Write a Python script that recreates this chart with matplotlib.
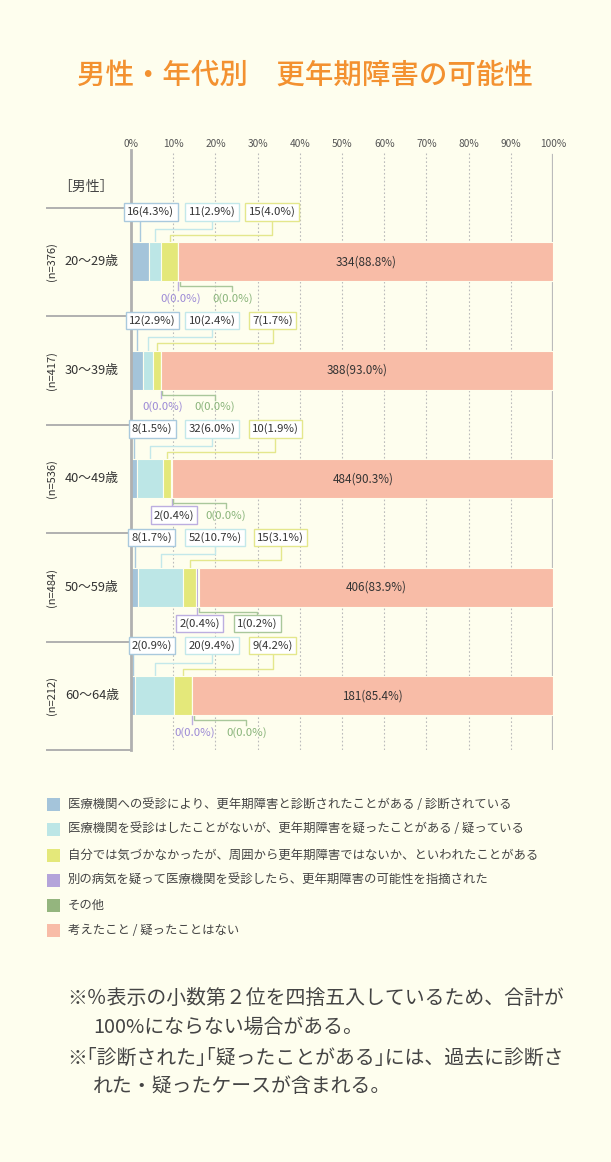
import matplotlib
matplotlib.use('Agg')
import matplotlib.pyplot as plt
from matplotlib.patches import Rectangle
import matplotlib.transforms as mtransforms

plt.rcParams['font.family'] = ['Noto Sans CJK JP', 'DejaVu Sans']

W, H = 611, 1162
BG = '#fefeee'

# データ
ages = ['20～29歳', '30～39歳', '40～49歳', '50～59歳', '60～64歳']
n_total = [376, 417, 536, 484, 212]
cnt_diag = [16, 12, 8, 8, 2]
pct_diag = [4.3, 2.9, 1.5, 1.7, 0.9]
cnt_susp = [11, 10, 32, 52, 20]
pct_susp = [2.9, 2.4, 6.0, 10.7, 9.4]
cnt_told = [15, 7, 10, 15, 9]
pct_told = [4.0, 1.7, 1.9, 3.1, 4.2]
cnt_other_ill = [0, 0, 2, 2, 0]
pct_other_ill = [0.0, 0.0, 0.4, 0.4, 0.0]
cnt_other = [0, 0, 0, 1, 0]
pct_other = [0.0, 0.0, 0.0, 0.2, 0.0]
cnt_never = [334, 388, 484, 406, 181]
pct_never = [88.8, 93.0, 90.3, 83.9, 85.4]

legend_labels = [
    '医療機関への受診により、更年期障害と診断されたことがある / 診断されている',
    '医療機関を受診はしたことがないが、更年期障害を疑ったことがある / 疑っている',
    '自分では気づかなかったが、周囲から更年期障害ではないか、といわれたことがある',
    '別の病気を疑って医療機関を受診したら、更年期障害の可能性を指摘された',
    'その他',
    '考えたこと / 疑ったことはない',
]
colors = ['#a4c4da', '#bce6e6', '#e4e87a', '#b4a4da', '#94b57e', '#f8bca7']
edge_colors = ['#a9c9dd', '#c3e8ea', '#e4e78c', '#bcaee0', '#a9c79b']
zero_text = ['#333333', '#333333', '#333333', '#9c8ad6', '#89b47a']

series_cnt = [cnt_diag, cnt_susp, cnt_told, cnt_other_ill, cnt_other, cnt_never]
series_pct = [pct_diag, pct_susp, pct_told, pct_other_ill, pct_other, pct_never]

# 上側ラベルの中心位置（％軸上）
top_label_x = [(4.7, 19.2, 33.4), (5.0, 19.2, 33.6), (5.0, 19.2, 34.2),
               (4.9, 19.9, 35.5), (5.0, 19.2, 33.6)]


def fx(x):
    return x / W


def fy(y):
    return 1 - y / H


fig = plt.figure(figsize=(W / 100, H / 100), dpi=100, facecolor=BG)

# タイトル
fig.text(fx(305), fy(75), '男性・年代別　更年期障害の可能性', ha='center', va='center',
         fontsize=20.5, color='#f39130', fontweight='medium')

ax = fig.add_axes([fx(131), fy(750), 422 / W, 600 / H])
ax.set_facecolor(BG)
ax.set_xlim(0, 100)
ax.set_ylim(4.5, -1.03)
for s in ax.spines.values():
    s.set_visible(False)
ax.set_yticks([])
ax.xaxis.set_ticks_position('top')
ax.set_xticks(range(0, 101, 10))
ax.set_xticklabels([f'{v}%' for v in range(0, 101, 10)], fontsize=7.3, color='#555555')
ax.tick_params(axis='x', length=0, pad=1)

# グリッド線
for v in range(10, 100, 10):
    ax.plot([v, v], [-1.0, 4.5], color='#bbbbbb', lw=0.8, ls=(0, (1.5, 2)), zorder=0)
ax.plot([100, 100], [-0.98, 4.5], color='#bbbbbb', lw=1.6, zorder=0)
ax.plot([0, 0], [-1.03, 4.5], color='#b0b0b0', lw=2, zorder=4, clip_on=False)

# 左側の区切り線と見出し
trans = mtransforms.blended_transform_factory(ax.transAxes, ax.transData)
for i in range(len(ages) + 1):
    ax.plot([-0.199, 0], [i - 0.5, i - 0.5], color='#b0b0b0', lw=1.4,
            transform=trans, clip_on=False)
ax.text(-0.107, -0.69, '［男性］', transform=trans, ha='center', va='center',
        fontsize=10, color='#444444')

bh = 0.36
fs_lab = 8.2
for i in range(len(ages)):
    ax.text(-0.093, i, ages[i], transform=trans, ha='center', va='center',
            fontsize=9.2, color='#333333')
    ax.text(-0.189, i, f'(n={n_total[i]})', transform=trans, ha='center', va='center',
            fontsize=8, color='#333333', rotation=90)

    left = 0
    centers = []
    for k in range(6):
        w = series_pct[k][i]
        ax.barh(i, w, left=left, height=bh, color=colors[k], edgecolor=BG, lw=0.8, zorder=2)
        centers.append(left + w / 2)
        left += w
    ax.text(centers[5], i, f'{cnt_never[i]}({pct_never[i]:.1f}%)', ha='center', va='center',
            fontsize=8.4, color='#333333', zorder=3)

    # 上側ラベル（3系列）
    y_lab = i - 0.46
    y_box = i - 0.386
    elbows = [None, i - 0.306, i - 0.251]
    for k in range(3):
        lx = top_label_x[i][k]
        ax.text(lx, y_lab, f'{series_cnt[k][i]}({series_pct[k][i]:.1f}%)', ha='center',
                va='center', fontsize=fs_lab, color='#333333', zorder=5,
                bbox=dict(boxstyle='square,pad=0.28', fc='white', ec=edge_colors[k], lw=1))
        cx = centers[k]
        if k == 0:
            ax.plot([cx, cx], [y_box, i - bh / 2], color=edge_colors[k], lw=1, zorder=1)
        else:
            ax.plot([lx, lx, cx, cx], [y_box, elbows[k], elbows[k], i - bh / 2],
                    color=edge_colors[k], lw=1, zorder=1)

    # 下側ラベル（2系列）
    pos = centers[3]
    y_lab = i + 0.335
    dx = pos + 0.6
    boxed_d = cnt_other_ill[i] > 0
    boxed_e = cnt_other[i] > 0
    ex = dx + (13.6 if (boxed_d and boxed_e) else 12.2)
    for k, lx, boxed in [(3, dx, boxed_d), (4, ex, boxed_e)]:
        txt = f'{series_cnt[k][i]}({series_pct[k][i]:.1f}%)'
        if boxed:
            ax.text(lx, y_lab, txt, ha='center', va='center', fontsize=fs_lab, color='#333333',
                    zorder=5, bbox=dict(boxstyle='square,pad=0.28', fc='white',
                                        ec=edge_colors[k], lw=1))
        else:
            ax.text(lx, y_lab, txt, ha='center', va='center', fontsize=fs_lab,
                    color=zero_text[k], zorder=5)
    ax.plot([pos, pos], [i + bh / 2, i + 0.26], color=edge_colors[3], lw=1, zorder=1)
    ax.plot([pos + 0.4, pos + 0.4, ex, ex], [i + bh / 2, i + 0.224, i + 0.224, i + 0.27],
            color=edge_colors[4], lw=1, zorder=1)

# 凡例
leg_y = [804, 829, 855, 880, 905, 930]
for k, lab in enumerate(legend_labels):
    fig.patches.append(Rectangle((fx(47), fy(leg_y[k] + 6.5)), 13 / W, 13 / H,
                                 transform=fig.transFigure, fc=colors[k], ec='none'))
    fig.text(fx(68), fy(leg_y[k]), lab, ha='left', va='center', fontsize=8.9, color='#444444')

# 注記
notes = [
    (67, 998, '※％表示の小数第２位を四捨五入しているため、合計が'),
    (93, 1027, '100%にならない場合がある。'),
    (67, 1058, '※｢診断された｣｢疑ったことがある｣には、過去に診断さ'),
    (93, 1087, 'れた・疑ったケースが含まれる。'),
]
for x, y, t in notes:
    fig.text(fx(x), fy(y), t, ha='left', va='center', fontsize=14.3, color='#444444')

fig.savefig('out.png', dpi=100, facecolor=BG)
